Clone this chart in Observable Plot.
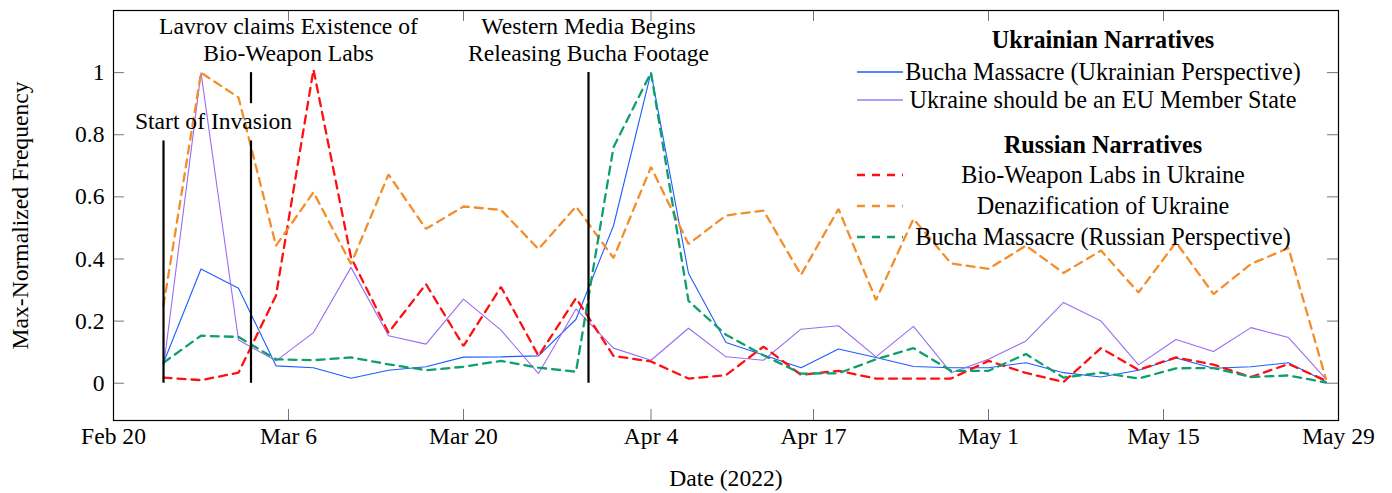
<!DOCTYPE html>
<html>
<head>
<meta charset="utf-8">
<script src="https://cdn.jsdelivr.net/npm/d3@7"></script>
<script src="https://cdn.jsdelivr.net/npm/@observablehq/plot@0.6"></script>
<style>
  html, body { margin: 0; padding: 0; background: #fff; }
  #wrap { position: relative; width: 1392px; height: 493px; font-family: "Liberation Serif", "Times New Roman", serif; }
  #legend { position: absolute; left: 0; top: 0; width: 1392px; height: 493px; pointer-events: none; }
  .lrow { position: absolute; left: 853px; width: 500px; height: 30px; line-height: 30px; font-size: 24.2px; text-align: center; color: #000; white-space: nowrap; }
  .lhead { font-weight: bold; }
  .lsample { position: absolute; left: 857px; width: 46px; height: 10px; }
</style>
</head>
<body>
<div id="wrap"><div id="chart"></div><div id="legend"></div></div>
<script>
// ---------- data ----------
const dates = [
  "2022-02-24","2022-02-27","2022-03-02","2022-03-05","2022-03-08","2022-03-11","2022-03-14","2022-03-17",
  "2022-03-20","2022-03-23","2022-03-26","2022-03-29","2022-04-01","2022-04-04","2022-04-07","2022-04-10",
  "2022-04-13","2022-04-16","2022-04-19","2022-04-22","2022-04-25","2022-04-28","2022-05-01","2022-05-04",
  "2022-05-07","2022-05-10","2022-05-13","2022-05-16","2022-05-19","2022-05-22","2022-05-25","2022-05-28"
];
const buchaUkrainian = [0.066,0.368,0.306,0.056,0.050,0.016,0.042,0.053,0.084,0.085,0.088,0.206,0.507,1.000,0.354,0.131,
                        0.091,0.050,0.110,0.083,0.054,0.050,0.050,0.066,0.034,0.020,0.042,0.081,0.048,0.053,0.066,0.005];
const euMember       = [0.050,1.000,0.139,0.072,0.163,0.373,0.153,0.126,0.271,0.171,0.031,0.239,0.113,0.074,0.177,0.085,
                        0.074,0.174,0.185,0.085,0.183,0.034,0.077,0.136,0.260,0.200,0.059,0.141,0.102,0.179,0.147,0.013];
const bioWeapon      = [0.018,0.010,0.034,0.282,1.010,0.405,0.163,0.319,0.120,0.310,0.088,0.274,0.088,0.070,0.015,0.026,
                        0.118,0.027,0.040,0.015,0.015,0.015,0.072,0.033,0.004,0.113,0.043,0.083,0.060,0.020,0.062,0.008];
const denazification = [0.250,1.000,0.920,0.443,0.615,0.384,0.672,0.497,0.569,0.558,0.432,0.569,0.403,0.696,0.448,0.540,
                        0.556,0.349,0.561,0.268,0.529,0.386,0.368,0.443,0.355,0.427,0.292,0.454,0.287,0.384,0.435,0.013];
const buchaRussian   = [0.066,0.153,0.149,0.077,0.074,0.083,0.061,0.042,0.053,0.072,0.050,0.037,0.760,1.000,0.265,0.156,
                        0.090,0.031,0.032,0.077,0.113,0.040,0.040,0.094,0.018,0.034,0.015,0.048,0.049,0.020,0.025,0.002];

const seriesNames = ["Bucha Massacre (Ukrainian Perspective)","Ukraine should be an EU Member State",
                     "Bio-Weapon Labs in Ukraine","Denazification of Ukraine","Bucha Massacre (Russian Perspective)"];
const seriesValues = [buchaUkrainian, euMember, bioWeapon, denazification, buchaRussian];
const seriesColors = ["#1f5cff","#9a6cf2","#ff1010","#f28e2b","#0f9e6e"];
const seriesDashed = [false,false,true,true,true];

const xTickDates = ["2022-02-20","2022-03-06","2022-03-20","2022-04-04","2022-04-17","2022-05-01","2022-05-15","2022-05-29"];
const yTickValues = [0,0.2,0.4,0.6,0.8,1];

// event markers: [date, from, to]
const eventRuleDates = ["2022-02-24","2022-03-03","2022-03-03","2022-03-30"];
const eventRuleFrom  = [0, 0, 0.90, 0];
const eventRuleTo    = [0.78, 0.78, 1.0, 1.0];
const eventLabelDates = ["2022-02-28","2022-03-06","2022-03-30"];
const eventLabelY     = [0.846, 1.109, 1.109];
const eventLabelTexts = ["Start of Invasion","Lavrov claims Existence of\nBio-Weapon Labs","Western Media Begins\nReleasing Bucha Footage"];

// ---------- build ----------
const parse = d3.utcParse("%Y-%m-%d");
const W = 1392, H = 493, mL = 113, mR = 54, mT = 10, mB = 73;
const frameW = W - mL - mR, frameH = H - mT - mB, tickLen = 11;
const FS = 23.6;

const lineMarks = seriesNames.map((name, s) => {
  const rows = dates.map((d, i) => ({date: parse(d), value: seriesValues[s][i]}));
  return Plot.line(rows, {
    x: "date", y: "value",
    stroke: seriesColors[s],
    strokeWidth: seriesDashed[s] ? 2.3 : 1.1,
    strokeDasharray: seriesDashed[s] ? "8,6" : null,
    strokeLinejoin: "miter"
  });
});

const rules = eventRuleDates.map((d, i) => ({date: parse(d), from: eventRuleFrom[i], to: eventRuleTo[i]}));
const labels = eventLabelDates.map((d, i) => ({date: parse(d), y: eventLabelY[i], text: eventLabelTexts[i]}));
const xTicks = xTickDates.map(parse);

const chart = Plot.plot({
  width: W, height: H,
  marginLeft: mL, marginRight: mR, marginTop: mT, marginBottom: mB,
  style: {fontFamily: "Liberation Serif, Times New Roman, serif", fontSize: FS + "px", background: "white", color: "black", overflow: "visible"},
  x: {type: "utc", domain: [parse("2022-02-20"), parse("2022-05-29")]},
  y: {domain: [-0.12, 1.2]},
  marks: [
    Plot.axisX(xTicks, {tickSize: 0, tickPadding: 7, tickFormat: d3.utcFormat("%b %-d"), label: null, fontSize: FS}),
    Plot.axisY(yTickValues, {tickSize: 0, tickPadding: 9, tickFormat: d => String(d), label: null, fontSize: FS}),
    Plot.tickX(xTicks, {x: d => d, stroke: "#777", insetTop: frameH - tickLen}),
    Plot.tickX(xTicks, {x: d => d, stroke: "#777", insetBottom: frameH - tickLen}),
    Plot.tickY(yTickValues, {y: d => d, stroke: "#777", insetRight: frameW - tickLen}),
    Plot.tickY(yTickValues, {y: d => d, stroke: "#777", insetLeft: frameW - tickLen}),
    ...lineMarks,
    Plot.ruleX(rules, {x: "date", y1: "from", y2: "to", stroke: "black", strokeWidth: 2.2}),
    Plot.text(labels, {x: "date", y: "y", text: "text", lineHeight: 1.15, fontSize: FS, fill: "black"}),
    Plot.text(["Date (2022)"], {frameAnchor: "bottom", dy: 58, lineAnchor: "middle", fontSize: FS}),
    Plot.text(["Max-Normalized Frequency"], {frameAnchor: "left", textAnchor: "middle", lineAnchor: "middle", rotate: -90, dx: -93, fontSize: FS}),
    Plot.frame({stroke: "black", strokeWidth: 1.2})
  ]
});
document.getElementById("chart").appendChild(chart);

// ---------- legend (overlay inside plot area) ----------
const legend = document.getElementById("legend");
const legendRows = [
  {text: "Ukrainian Narratives", head: true, yc: 40},
  {text: seriesNames[0], s: 0, yc: 72},
  {text: seriesNames[1], s: 1, yc: 100},
  {text: "Russian Narratives", head: true, yc: 145},
  {text: seriesNames[2], s: 2, yc: 175},
  {text: seriesNames[3], s: 3, yc: 206},
  {text: seriesNames[4], s: 4, yc: 237}
];
legendRows.forEach(r => {
  const div = document.createElement("div");
  div.className = "lrow" + (r.head ? " lhead" : "");
  div.style.top = (r.yc - 15) + "px";
  div.textContent = r.text;
  legend.appendChild(div);
  if (!r.head) {
    const ns = "http://www.w3.org/2000/svg";
    const svg = document.createElementNS(ns, "svg");
    svg.setAttribute("class", "lsample");
    svg.setAttribute("width", 46); svg.setAttribute("height", 10);
    svg.style.top = (r.yc - 5) + "px";
    const ln = document.createElementNS(ns, "line");
    ln.setAttribute("x1", 0); ln.setAttribute("x2", 46); ln.setAttribute("y1", 5); ln.setAttribute("y2", 5);
    ln.setAttribute("stroke", r.s === 1 ? "#b59cf7" : seriesColors[r.s]);
    ln.setAttribute("stroke-width", seriesDashed[r.s] ? 2.3 : (r.s === 1 ? 2 : 1.3));
    if (seriesDashed[r.s]) ln.setAttribute("stroke-dasharray", "8,7");
    svg.appendChild(ln);
    legend.appendChild(svg);
  }
});
</script>
</body>
</html>
